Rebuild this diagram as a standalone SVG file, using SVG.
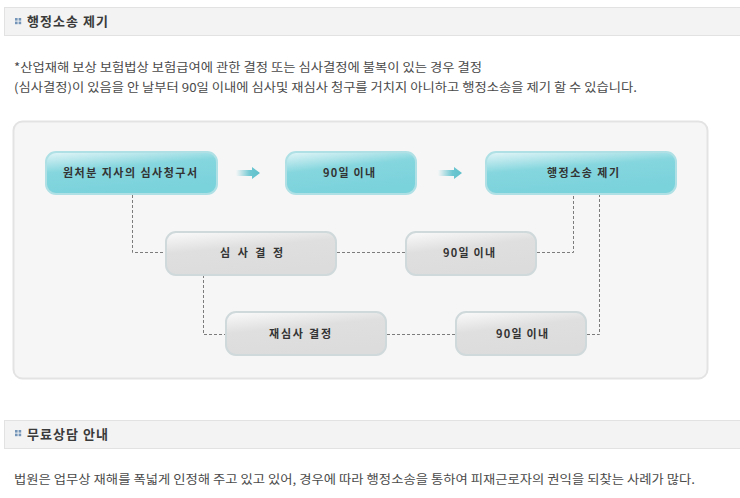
<svg xmlns="http://www.w3.org/2000/svg" width="740" height="498" viewBox="0 0 740 498">
<defs>
<style>
.hdr{fill:#f3f3f3;stroke:#e2e2e2;stroke-width:1}
.ttl{font-family:"Noto Sans CJK KR","Noto Sans",sans-serif;font-size:13px;font-weight:bold;fill:#3a3a3a}
.body{font-family:"Noto Sans CJK KR","Noto Sans",sans-serif;font-size:12px;fill:#4a4a4a}
.lbl{font-family:"Noto Sans CJK KR","Noto Sans",sans-serif;font-size:11px;font-weight:bold;fill:#333;text-anchor:middle}
.teal{fill:url(#gTeal);stroke:#aee0e5;stroke-width:2}
.gray{fill:url(#gGray);stroke:#cfd8da;stroke-width:2}
.con{fill:none;stroke:#7c7c7c;stroke-width:1;stroke-dasharray:3 2}
.ico{fill:#7495b8}
</style>
<linearGradient id="gTeal" x1="0" y1="0" x2="0.35" y2="1">
<stop offset="0" stop-color="#e4f6f8"/>
<stop offset="0.45" stop-color="#85d6de"/>
<stop offset="1" stop-color="#7ad2db"/>
</linearGradient>
<linearGradient id="gGray" x1="0" y1="0" x2="0.35" y2="1">
<stop offset="0" stop-color="#fbfbfb"/>
<stop offset="0.45" stop-color="#dfdfdf"/>
<stop offset="1" stop-color="#dcdcdc"/>
</linearGradient>
<linearGradient id="gArrow" x1="0" y1="0" x2="1" y2="0">
<stop offset="0" stop-color="#6cc7d1" stop-opacity="0"/>
<stop offset="0.6" stop-color="#6cc7d1"/>
<stop offset="1" stop-color="#5fc0cb"/>
</linearGradient>
</defs>
<rect width="740" height="498" fill="#ffffff"/>

<g id="header1">
<rect class="hdr" x="4.5" y="7.5" width="740" height="28"/>
<rect class="ico" x="15" y="18" width="2.6" height="2.6"/><rect class="ico" x="18.6" y="18" width="2.6" height="2.6"/>
<rect class="ico" x="15" y="21.6" width="2.6" height="2.6"/><rect class="ico" x="18.6" y="21.6" width="2.6" height="2.6"/>
<text class="ttl" x="27" y="26" textLength="81" lengthAdjust="spacing">행정소송 제기</text>
</g>

<g id="intro">
<text class="body" x="14" y="72" textLength="468" lengthAdjust="spacingAndGlyphs">*산업재해 보상 보험법상 보험급여에 관한 결정 또는 심사결정에 불복이 있는 경우 결정</text>
<text class="body" x="14" y="92" textLength="623" lengthAdjust="spacingAndGlyphs">(심사결정)이 있음을 안 날부터 90일 이내에 심사및 재심사 청구를 거치지 아니하고 행정소송을 제기 할 수 있습니다.</text>
</g>

<rect id="panel" x="13.5" y="121.5" width="694" height="257" rx="9" fill="#f6f6f6" stroke="#e3e3e3" stroke-width="2"/>

<g id="connectors">
<path class="con" d="M132.5 195 V252.5 H165"/>
<path class="con" d="M337 252.5 H405"/>
<path class="con" d="M537 252.5 H573.5 V195"/>
<path class="con" d="M203.5 275 V334.5 H225"/>
<path class="con" d="M387 334.5 H455"/>
<path class="con" d="M587 334.5 H599.5 V195"/>
<polygon fill="url(#gArrow)" points="236,170 252,170 252,167 260,173 252,179 252,176 236,176"/>
<polygon fill="url(#gArrow)" points="438,170 454,170 454,167 462,173 454,179 454,176 438,176"/>
</g>

<g id="n1"><rect class="teal" x="46" y="152" width="171" height="42" rx="10"/><text class="lbl" x="130" y="177" textLength="134" lengthAdjust="spacing">원처분 지사의 심사청구서</text></g>
<g id="n2"><rect class="teal" x="286" y="152" width="130" height="42" rx="10"/><text class="lbl" x="349" y="177" textLength="52" lengthAdjust="spacing">90일 이내</text></g>
<g id="n3"><rect class="teal" x="486" y="152" width="190" height="42" rx="10"/><text class="lbl" x="583" y="177" textLength="72" lengthAdjust="spacing">행정소송 제기</text></g>

<g id="n4"><rect class="gray" x="166" y="232" width="170" height="43" rx="10"/><text class="lbl" x="251.5" y="257" textLength="63" lengthAdjust="spacing">심 사 결 정</text></g>
<g id="n5"><rect class="gray" x="406" y="232" width="130" height="43" rx="10"/><text class="lbl" x="469" y="257" textLength="52" lengthAdjust="spacing">90일 이내</text></g>
<g id="n6"><rect class="gray" x="226" y="312" width="160" height="43" rx="10"/><text class="lbl" x="300" y="338" textLength="62" lengthAdjust="spacing">재심사 결정</text></g>
<g id="n7"><rect class="gray" x="456" y="312" width="130" height="43" rx="10"/><text class="lbl" x="522" y="338" textLength="52" lengthAdjust="spacing">90일 이내</text></g>

<g id="header2">
<rect class="hdr" x="4.5" y="420.5" width="740" height="28"/>
<rect class="ico" x="15" y="430" width="2.6" height="2.6"/><rect class="ico" x="18.6" y="430" width="2.6" height="2.6"/>
<rect class="ico" x="15" y="433.6" width="2.6" height="2.6"/><rect class="ico" x="18.6" y="433.6" width="2.6" height="2.6"/>
<text class="ttl" x="27" y="439" textLength="81" lengthAdjust="spacing">무료상담 안내</text>
</g>

<g id="outro">
<text class="body" x="14" y="484" textLength="681" lengthAdjust="spacingAndGlyphs">법원은 업무상 재해를 폭넓게 인정해 주고 있고 있어, 경우에 따라 행정소송을 통하여 피재근로자의 권익을 되찾는 사례가 많다.</text>
</g>
</svg>
